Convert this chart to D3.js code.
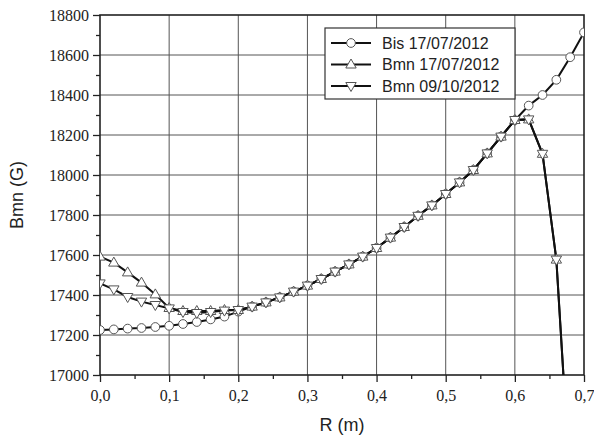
<!DOCTYPE html>
<html>
<head>
<meta charset="utf-8">
<script src="https://cdn.jsdelivr.net/npm/d3@7"></script>
<style>
  html, body { margin: 0; padding: 0; background: #fff; }
  svg { display: block; }
</style>
</head>
<body>
<svg id="chart" width="594" height="435"></svg>
<script>
// Radial field profiles, R in metres, field in gauss
const radius = [0.00, 0.02, 0.04, 0.06, 0.08, 0.10, 0.12, 0.14, 0.16, 0.18,
                0.20, 0.22, 0.24, 0.26, 0.28, 0.30, 0.32, 0.34, 0.36, 0.38,
                0.40, 0.42, 0.44, 0.46, 0.48, 0.50, 0.52, 0.54, 0.56, 0.58,
                0.60, 0.62, 0.64, 0.66, 0.68, 0.70];

const bis170712 = [17225, 17228, 17232, 17235, 17240, 17246, 17255, 17265, 17278, 17292,
                   17317, 17342, 17363, 17388, 17417, 17447, 17480, 17517, 17553, 17592,
                   17635, 17687, 17740, 17796, 17848, 17905, 17963, 18025, 18108, 18192,
                   18274, 18347, 18400, 18476, 18589, 18713];

const bmn170712 = [17592, 17562, 17513, 17462, 17403, 17335, 17320, 17320, 17320, 17325,
                   17325, 17342, 17363, 17388, 17417, 17447, 17480, 17517, 17553, 17592,
                   17635, 17687, 17740, 17796, 17848, 17905, 17963, 18025, 18108, 18192,
                   18275, 18278, 18106, 17577, 16450];

const bmn091012 = [17458, 17428, 17390, 17367, 17350, 17333, 17315, 17310, 17315, 17322,
                   17325, 17342, 17363, 17388, 17417, 17447, 17480, 17517, 17553, 17592,
                   17635, 17687, 17740, 17796, 17848, 17905, 17963, 18025, 18108, 18192,
                   18275, 18278, 18106, 17577, 16450];

const seriesNames = ["Bis 17/07/2012", "Bmn 17/07/2012", "Bmn 09/10/2012"];
const seriesValues = [bis170712, bmn170712, bmn091012];
const seriesMarkers = ["circle", "up", "down"];

const xTicks = [0, 0.1, 0.2, 0.3, 0.4, 0.5, 0.6, 0.7];
const xMinorTicks = [0.05, 0.15, 0.25, 0.35, 0.45, 0.55, 0.65];
const yTicks = [17000, 17200, 17400, 17600, 17800, 18000, 18200, 18400, 18600, 18800];
const yMinorTicks = [17100, 17300, 17500, 17700, 17900, 18100, 18300, 18500, 18700];

const xTitle = "R (m)";
const yTitle = "Bmn (G)";

// Layout
const plotLeft = 100, plotRight = 584, plotTop = 15, plotBottom = 375;
const svg = d3.select("#chart");

const x = d3.scaleLinear().domain([0, 0.7]).range([plotLeft, plotRight]);
const y = d3.scaleLinear().domain([17000, 18800]).range([plotBottom, plotTop]);

const fmt = d => d3.format(".1f")(d).replace(".", ",");

// Grid
const grid = svg.append("g").attr("stroke", "#555").attr("stroke-width", 1);
grid.selectAll("line.gx").data(xTicks.slice(1, -1)).join("line")
  .attr("x1", d => x(d)).attr("x2", d => x(d))
  .attr("y1", plotTop).attr("y2", plotBottom);
grid.selectAll("line.gy").data(yTicks.slice(1, -1)).join("line")
  .attr("x1", plotLeft).attr("x2", plotRight)
  .attr("y1", d => y(d)).attr("y2", d => y(d));

// Axes with outward major and minor ticks
svg.append("g").attr("transform", `translate(0,${plotBottom})`)
  .call(d3.axisBottom(x).tickValues(xTicks).tickFormat(fmt).tickSize(7).tickPadding(8));
svg.append("g").attr("transform", `translate(0,${plotBottom})`)
  .call(d3.axisBottom(x).tickValues(xMinorTicks).tickFormat("").tickSize(4));

svg.append("g").attr("transform", `translate(${plotLeft},0)`)
  .call(d3.axisLeft(y).tickValues(yTicks).tickFormat(d3.format("d")).tickSize(7).tickPadding(4));
svg.append("g").attr("transform", `translate(${plotLeft},0)`)
  .call(d3.axisLeft(y).tickValues(yMinorTicks).tickFormat("").tickSize(4));

svg.selectAll(".tick line").attr("stroke", "#222").attr("stroke-width", 1.3);
svg.selectAll(".domain").remove();
svg.selectAll(".tick text")
  .style("font-family", '"Liberation Serif", "Times New Roman", serif')
  .style("font-size", "16px").attr("fill", "#222");

// Frame
svg.append("rect")
  .attr("x", plotLeft).attr("y", plotTop)
  .attr("width", plotRight - plotLeft).attr("height", plotBottom - plotTop)
  .attr("fill", "none").attr("stroke", "#222").attr("stroke-width", 1.6);

// Axis titles
const titleFont = '"Liberation Sans", Arial, sans-serif';
svg.append("text")
  .attr("x", (plotLeft + plotRight) / 2).attr("y", 431)
  .attr("text-anchor", "middle")
  .style("font-family", titleFont).style("font-size", "18px").attr("fill", "#222")
  .text(xTitle);
svg.append("text")
  .attr("transform", `translate(23,${(plotTop + plotBottom) / 2}) rotate(-90)`)
  .attr("text-anchor", "middle")
  .style("font-family", titleFont).style("font-size", "18px").attr("fill", "#222")
  .text(yTitle);

// Clip data to the plot frame
svg.append("clipPath").attr("id", "plotClip")
  .append("rect").attr("x", plotLeft).attr("y", plotTop)
  .attr("width", plotRight - plotLeft).attr("height", plotBottom - plotTop);

const plot = svg.append("g").attr("clip-path", "url(#plotClip)");

const line = d3.line()
  .x(d => x(d[0])).y(d => y(d[1]));

const markerPath = {
  circle: d3.symbol().type(d3.symbolCircle).size(60)(),
  up: "M0,-5.5L5.2,3.5L-5.2,3.5Z",
  down: "M0,5.5L5.2,-3.5L-5.2,-3.5Z"
};

const data = seriesValues.map((vals, i) => ({
  name: seriesNames[i],
  marker: seriesMarkers[i],
  points: vals.map((v, j) => [radius[j], v])
}));

// Lines first, then markers on top
plot.selectAll("path.series").data(data).join("path")
  .attr("class", "series")
  .attr("d", d => line(d.points))
  .attr("fill", "none").attr("stroke", "#111").attr("stroke-width", 2);

data.forEach(s => {
  plot.append("g").selectAll("path").data(s.points).join("path")
    .attr("transform", d => `translate(${x(d[0])},${y(d[1])})`)
    .attr("d", markerPath[s.marker])
    .attr("fill", "#fff").attr("stroke", "#555").attr("stroke-width", 1);
});

// Legend
const legend = svg.append("g");
legend.append("rect")
  .attr("x", 325).attr("y", 28).attr("width", 190).attr("height", 71)
  .attr("fill", "#fff").attr("stroke", "#333").attr("stroke-width", 1.2);

data.forEach((s, i) => {
  const ly = 43 + i * 21.5;
  legend.append("line")
    .attr("x1", 331).attr("x2", 371).attr("y1", ly).attr("y2", ly)
    .attr("stroke", "#111").attr("stroke-width", 2);
  legend.append("path")
    .attr("transform", `translate(351,${ly})`)
    .attr("d", markerPath[s.marker])
    .attr("fill", "#fff").attr("stroke", "#555").attr("stroke-width", 1);
  legend.append("text")
    .attr("x", 382).attr("y", ly).attr("dy", "0.36em")
    .style("font-family", titleFont).style("font-size", "16px").attr("fill", "#222")
    .text(s.name);
});
</script>
</body>
</html>
